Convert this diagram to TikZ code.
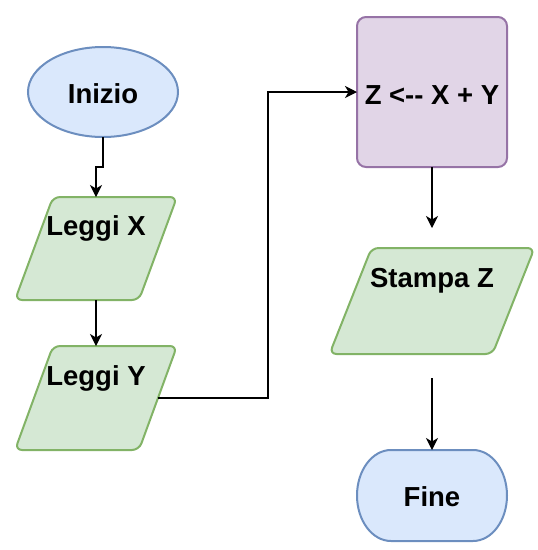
\documentclass[tikz,border=0pt]{standalone}
\usepackage{fontspec}
\setmainfont{Liberation Sans}
\usetikzlibrary{arrows.meta,calc,shapes.geometric}
\definecolor{bluef}{HTML}{DAE8FC}
\definecolor{bluel}{HTML}{6C8EBF}
\definecolor{greenf}{HTML}{D5E8D4}
\definecolor{greenl}{HTML}{82B366}
\definecolor{purpf}{HTML}{E1D5E7}
\definecolor{purpl}{HTML}{9673A6}
\begin{document}
\begin{tikzpicture}[x=1pt,y=1pt,
  txt/.style={font=\bfseries\fontsize{27.5}{30}\selectfont, inner sep=0pt, anchor=base},
  arr/.style={draw=black, line width=1.3pt, -{Stealth[length=12pt,width=12pt,inset=3.5pt]}},
  box/.style={inner sep=0pt, outer sep=0pt},
  para/.style={fill=greenf, draw=greenl, line width=2pt, rounded corners=7pt, line join=round}]
\useasboundingbox (0,0) rectangle (538,-550);

% Inizio
\node[box, ellipse, draw=bluel, fill=bluef, line width=2pt, minimum width=150pt, minimum height=90pt] (inizio) at (103,-92) {};
\node[txt] (inizioT) at (103,-103) {Inizio};

% Leggi X
\node[box, minimum width=162pt, minimum height=103pt] (lx) at (96,-248.5) {};
\draw[para] (lx.south west) -- ($(lx.north west)+(38,0)$) -- (lx.north east) -- ($(lx.south east)+(-38,0)$) -- cycle;
\node[txt] (lxT) at ($(lx.north)+(0,-38)$) {Leggi X};

% Leggi Y
\node[box, minimum width=162pt, minimum height=104pt] (ly) at (96,-398) {};
\draw[para] (ly.south west) -- ($(ly.north west)+(38,0)$) -- (ly.north east) -- ($(ly.south east)+(-38,0)$) -- cycle;
\node[txt] (lyT) at ($(ly.north)+(0,-39)$) {Leggi Y};
\coordinate (lyr) at ($(ly.east)+(-19,0)$);

% Z box
\node[box, draw=purpl, fill=purpf, line width=2pt, rounded corners=9pt, minimum width=150pt, minimum height=150pt] (z) at (432,-92) {};
\node[txt] (zT) at (432,-104) {Z <-{}- X + Y};

% Stampa Z
\node[box, minimum width=205pt, minimum height=106pt] (st) at (432,-301) {};
\draw[para] (st.south west) -- ($(st.north west)+(42,0)$) -- (st.north east) -- ($(st.south east)+(-42,0)$) -- cycle;
\node[txt] (stT) at ($(st.north)+(0,-39)$) {Stampa Z};
\coordinate (stin) at ($(st.north)+(0,20)$);
\coordinate (stout) at ($(st.south)+(0,-24)$);

% Fine
\node[box, minimum width=150pt, minimum height=91pt] (fine) at (432,-495.5) {};
\draw[draw=bluel, fill=bluef, line width=2pt]
  ($(fine.north west)+(34,0)$) -- ($(fine.north east)+(-34,0)$)
  arc[start angle=90, end angle=-90, x radius=34pt, y radius=45.5pt]
  -- ($(fine.south west)+(34,0)$)
  arc[start angle=270, end angle=90, x radius=34pt, y radius=45.5pt] -- cycle;
\node[txt] (fineT) at (432,-506) {Fine};

% connectors
\draw[arr] (inizio.south) -- ($(inizio.south)+(0,-30)$) -| (lx.north);
\draw[arr] (lx.south) -- (ly.north);
\draw[arr] (lyr) -- ++(110,0) |- (z.west);
\draw[arr] (z.south) -- (stin);
\draw[arr] (stout) -- (fine.north);
\end{tikzpicture}
\end{document}
